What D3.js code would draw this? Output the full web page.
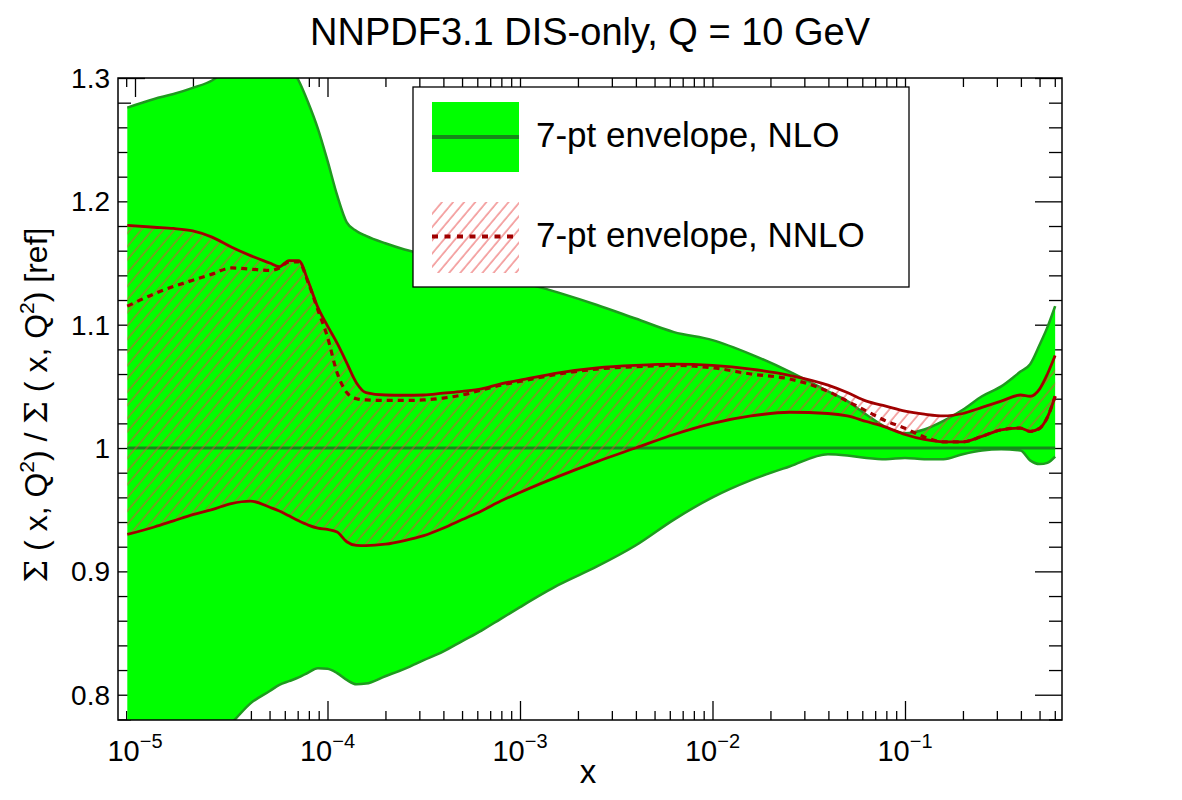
<!DOCTYPE html>
<html><head><meta charset="utf-8">
<script src="https://cdn.jsdelivr.net/npm/d3@7"></script>
<style>body{margin:0;background:#fff;} svg{display:block;font-family:"Liberation Sans",Arial,sans-serif;}</style>
</head><body><svg id="c" width="1182" height="800"></svg>
<script>
// ---- data ----
const log10x = [-5.04,-4.9,-4.8,-4.7,-4.6,-4.5,-4.4,-4.3,-4.25,-4.2,-4.15,-4.1,-4.05,-4.0,-3.95,-3.9,-3.85,-3.8,-3.7,-3.6,-3.5,-3.4,-3.3,-3.2,-3.1,-3.0,-2.8,-2.6,-2.4,-2.2,-2.0,-1.8,-1.6,-1.4,-1.3,-1.2,-1.1,-1.0,-0.9,-0.8,-0.7,-0.6,-0.5,-0.4,-0.35,-0.3,-0.26,-0.22];
const nloHi = [1.276,1.283,1.287,1.292,1.298,1.310,1.320,1.325,1.320,1.310,1.298,1.280,1.259,1.233,1.205,1.183,1.176,1.172,1.166,1.161,1.157,1.152,1.148,1.144,1.140,1.135,1.126,1.116,1.105,1.094,1.0875,1.076,1.062,1.046,1.038,1.027,1.017,1.012,1.015,1.022,1.031,1.042,1.050,1.062,1.068,1.084,1.098,1.115];
const nloLo = [0.700,0.720,0.735,0.750,0.765,0.777,0.793,0.803,0.808,0.811,0.814,0.818,0.8215,0.821,0.8175,0.812,0.8085,0.809,0.815,0.821,0.828,0.835,0.8435,0.852,0.8615,0.871,0.889,0.904,0.921,0.942,0.960,0.974,0.985,0.995,0.994,0.992,0.991,0.992,0.991,0.991,0.995,0.998,0.999,0.998,0.990,0.987,0.988,0.993];
const nloCentral = log10x.map(() => 1.0);
const nnloHi = [1.1805,1.179,1.178,1.176,1.171,1.163,1.156,1.150,1.147,1.152,1.152,1.135,1.114,1.099,1.085,1.069,1.053,1.045,1.043,1.0428,1.043,1.0445,1.046,1.048,1.052,1.055,1.061,1.065,1.067,1.068,1.067,1.064,1.059,1.051,1.045,1.038,1.034,1.030,1.0275,1.026,1.028,1.033,1.038,1.043,1.042,1.048,1.060,1.075];
const nnloLo = [0.930,0.936,0.941,0.946,0.950,0.955,0.957,0.952,0.949,0.945,0.941,0.9375,0.935,0.934,0.932,0.924,0.921,0.9208,0.922,0.925,0.929,0.935,0.942,0.949,0.957,0.964,0.977,0.989,1.000,1.011,1.020,1.026,1.029,1.028,1.026,1.0215,1.017,1.011,1.007,1.005,1.005,1.0095,1.0148,1.0162,1.0135,1.016,1.025,1.042];
const nnloCentral = [1.115,1.125,1.131,1.136,1.141,1.146,1.145,1.144,1.146,1.151,1.151,1.134,1.112,1.090,1.061,1.045,1.040,1.039,1.0386,1.0386,1.039,1.0405,1.043,1.047,1.051,1.054,1.060,1.064,1.066,1.067,1.065,1.060,1.056,1.046,1.038,1.030,1.022,1.016,1.009,1.005,1.005,1.0095,1.0148,1.0162,1.0135,1.016,1.025,1.042];
const yTickValues = [0.8,0.9,1.0,1.1,1.2,1.3];
const yTickLabels = ["0.8","0.9","1","1.1","1.2","1.3"];
const xTickExponents = [-5,-4,-3,-2,-1];
const legendLabels = ["7-pt envelope, NLO","7-pt envelope, NNLO"];
const titleText = "NNPDF3.1 DIS-only, Q = 10 GeV";

// ---- layout ----
const L = 118, T = 78, R = 1062, B = 720;
const xs = log10x.map(l => Math.pow(10, l));
const x = d3.scaleLog().domain([Math.pow(10,-5.0883), Math.pow(10,-0.1844)]).range([L, R]);
const y = d3.scaleLinear().domain([0.7795, 1.3]).range([B, T]);

const svg = d3.select("#c");
const defs = svg.append("defs");
defs.append("clipPath").attr("id","clip").append("rect").attr("x",L).attr("y",T).attr("width",R-L).attr("height",B-T);
const pat = defs.append("pattern").attr("id","hatch").attr("patternUnits","userSpaceOnUse")
  .attr("width",8.5).attr("height",8.5).attr("patternTransform","rotate(40)");
pat.append("line").attr("x1",1).attr("y1",0).attr("x2",1).attr("y2",8.5).attr("stroke","#e84040").attr("stroke-width",0.9);

// ticks (below data)
const minorX = [];
for (let e = -6; e <= -1; e++) for (let k = 2; k <= 9; k++) { const v = k*Math.pow(10,e); if (v >= x.domain()[0] && v <= x.domain()[1]) minorX.push(v); }
const majorX = xTickExponents.map(e => Math.pow(10, e));
const minorY = d3.range(0.78, 1.3001, 0.02).map(v => +v.toFixed(2)).filter(v => !yTickValues.some(t => Math.abs(t-v) < 1e-6));

function tickAxis(axis, tf, vals, size) {
  const g = svg.append("g").attr("transform", tf).call(axis.tickValues(vals).tickSize(size).tickFormat(""));
  g.select(".domain").remove();
  g.selectAll("line").attr("stroke","#000").attr("stroke-width",1.3);
}
tickAxis(d3.axisBottom(x), `translate(0,${B})`, minorX, -9);
tickAxis(d3.axisBottom(x), `translate(0,${B})`, majorX, -19);
tickAxis(d3.axisTop(x), `translate(0,${T})`, minorX, -9);
tickAxis(d3.axisTop(x), `translate(0,${T})`, majorX, -19);
tickAxis(d3.axisLeft(y), `translate(${L},0)`, minorY, -13);
tickAxis(d3.axisLeft(y), `translate(${L},0)`, yTickValues, -27);
tickAxis(d3.axisRight(y), `translate(${R},0)`, minorY, -13);
tickAxis(d3.axisRight(y), `translate(${R},0)`, yTickValues, -27);

// data
const plot = svg.append("g").attr("clip-path","url(#clip)");
const idx = d3.range(xs.length);
const curve = d3.curveMonotoneX;
const area = (lo, hi) => d3.area().x(i => x(xs[i])).y0(i => y(lo[i])).y1(i => y(hi[i])).curve(curve)(idx);
const line = s => d3.line().x(i => x(xs[i])).y(i => y(s[i])).curve(curve)(idx);

plot.append("path").attr("d", area(nloLo, nloHi)).attr("fill","#00ff00");
plot.append("path").attr("d", line(nloHi)).attr("fill","none").attr("stroke","#1f9a1f").attr("stroke-width",2.5);
plot.append("path").attr("d", line(nloLo)).attr("fill","none").attr("stroke","#1f9a1f").attr("stroke-width",2.5);
plot.append("path").attr("d", line(nloCentral)).attr("fill","none").attr("stroke","#16891a").attr("stroke-width",3);
plot.append("path").attr("d", area(nnloLo, nnloHi)).attr("fill","url(#hatch)");
plot.append("path").attr("d", line(nnloCentral)).attr("fill","none").attr("stroke","#a00000").attr("stroke-width",3.2).attr("stroke-dasharray","6,5");
plot.append("path").attr("d", line(nnloHi)).attr("fill","none").attr("stroke","#a00000").attr("stroke-width",2.8);
plot.append("path").attr("d", line(nnloLo)).attr("fill","none").attr("stroke","#a00000").attr("stroke-width",2.8);

// frame
svg.append("rect").attr("x",L).attr("y",T).attr("width",R-L).attr("height",B-T).attr("fill","none").attr("stroke","#000").attr("stroke-width",1.5);

// tick labels
svg.append("g").selectAll("text").data(yTickValues).join("text")
  .attr("x", L-8).attr("y", d => y(d)+10).attr("text-anchor","end").attr("font-size",28).text((d,i) => yTickLabels[i]);
const xl = svg.append("g").selectAll("text").data(xTickExponents).join("text")
  .attr("x", d => x(Math.pow(10,d))).attr("y", 761).attr("text-anchor","middle").attr("font-size",29);
xl.append("tspan").text("10");
xl.append("tspan").attr("dy",-13).attr("font-size",20).text(d => "\u2212" + Math.abs(d));

// axis titles
svg.append("text").attr("x",588).attr("y",783).attr("text-anchor","middle").attr("font-size",33).text("x");
const yl = svg.append("text").attr("transform","translate(47,405) rotate(-90)").attr("text-anchor","middle").attr("font-size",32);
yl.append("tspan").attr("font-family","DejaVu Serif, serif").text("\u03A3");
yl.append("tspan").text(" ( x, Q");
yl.append("tspan").attr("dy",-13).attr("font-size",21).text("2");
yl.append("tspan").attr("dy",13).text(") / ");
yl.append("tspan").attr("font-family","DejaVu Serif, serif").text("\u03A3");
yl.append("tspan").text(" ( x, Q");
yl.append("tspan").attr("dy",-13).attr("font-size",21).text("2");
yl.append("tspan").attr("dy",13).text(") [ref]");

svg.append("text").attr("x",590).attr("y",45).attr("text-anchor","middle").attr("font-size",38).text(titleText);

// legend
const lg = svg.append("g");
lg.append("rect").attr("x",413).attr("y",87).attr("width",496).attr("height",200).attr("fill","#fff").attr("stroke","#000").attr("stroke-width",1.3);
lg.append("rect").attr("x",432).attr("y",102).attr("width",87).attr("height",70).attr("fill","#00ff00");
lg.append("line").attr("x1",432).attr("x2",519).attr("y1",137).attr("y2",137).attr("stroke","#16891a").attr("stroke-width",4);
lg.append("rect").attr("x",432).attr("y",202).attr("width",87).attr("height",71).attr("fill","url(#hatch)");
lg.append("line").attr("x1",432).attr("x2",514).attr("y1",236.5).attr("y2",236.5).attr("stroke","#a00000").attr("stroke-width",4).attr("stroke-dasharray","6,6.5");
lg.selectAll("text.l").data(legendLabels).join("text").attr("class","l")
  .attr("x",536).attr("y",(d,i) => 147 + i*100).attr("font-size",35).text(d => d);
</script></body></html>
